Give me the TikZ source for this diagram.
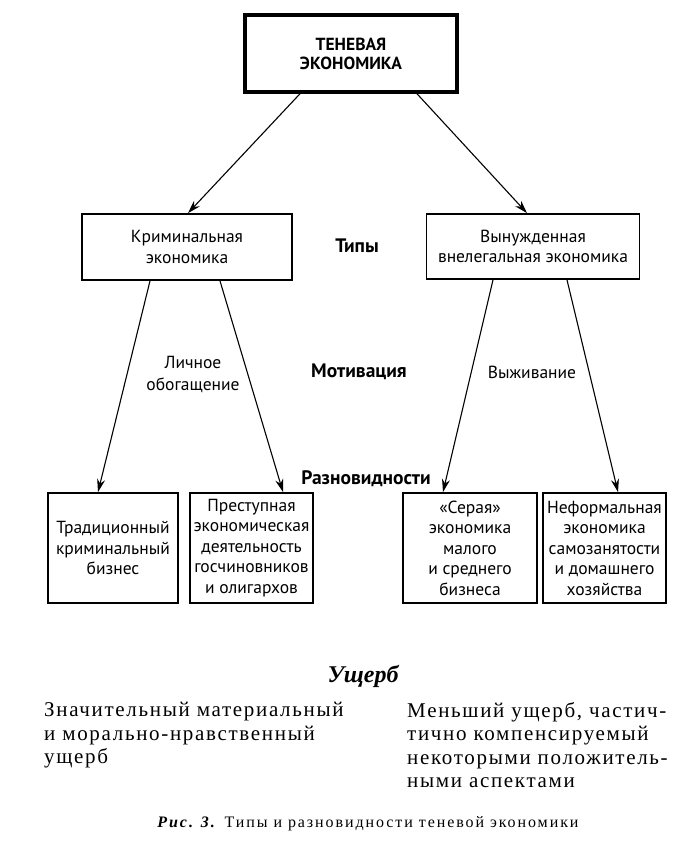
\documentclass[tikz,border=0pt]{standalone}
\usepackage{fontspec}
\setmainfont{Liberation Serif}
\setsansfont{PT Sans}
\usetikzlibrary{arrows.meta}

\tikzset{
  box/.style={draw, line width=1.8pt, align=center, inner sep=0pt,
    font=\sffamily\fontsize{17.5}{20.5}\selectfont},
  arr/.style={-{Stealth[length=13pt, width=8pt]}, line width=1.1pt},
  head/.style={font=\sffamily\bfseries\fontsize{19.5}{22}\selectfont},
  note/.style={align=center, font=\sffamily\fontsize{17.5}{22}\selectfont},
  loss/.style={anchor=north west, align=left, inner sep=0pt,
    font=\addfontfeature{LetterSpace=8}\fontsize{21}{23.5}\selectfont}
}

\begin{document}
\begin{tikzpicture}[x=1pt, y=-1pt]
    \useasboundingbox (0,0) rectangle (697,844);
    % types
    \node[box, line width=3.5pt, minimum width=212pt, minimum height=77pt,
        font=\sffamily\bfseries\fontsize{17.5}{19}\selectfont] (shadow) at (351,53.5) {ТЕНЕВАЯ\\ЭКОНОМИКА};
    \node[box, minimum width=210pt, minimum height=66pt] (crim) at (187,247) {Криминальная\\экономика};
    \node[box, minimum width=213pt, minimum height=65pt] (forced) at (533,246.5) {Вынужденная\\внелегальная экономика};
    % varieties
    \node[box, minimum width=130pt, minimum height=110pt] (trad) at (113,548) {Традиционный\\криминальный\\бизнес};
    \node[box, minimum width=123pt, minimum height=110pt] (olig) at (251.5,548) {Преступная\\экономическая\\деятельность\\госчиновников\\и олигархов};
    \node[box, minimum width=134pt, minimum height=110pt] (grey) at (470,548) {«Серая»\\экономика\\малого\\и среднего\\бизнеса};
    \node[box, minimum width=123pt, minimum height=110pt] (inform) at (604.5,548) {Неформальная\\экономика\\самозанятости\\и домашнего\\хозяйства};
    % arrows
    \draw[arr] ([xshift=-51pt]shadow.south) -- ([xshift=1pt]crim.north);
    \draw[arr] ([xshift=66pt]shadow.south) -- ([xshift=-6pt]forced.north);
    \draw[arr] ([xshift=-37pt]crim.south) -- ([xshift=-15pt]trad.north);
    \draw[arr] ([xshift=33pt]crim.south) -- ([xshift=31.5pt]olig.north);
    \draw[arr] ([xshift=-40pt]forced.south) -- ([xshift=-27pt]grey.north);
    \draw[arr] ([xshift=34pt]forced.south) -- ([xshift=13.5pt]inform.north);
    % labels
    \node[head] (types) at (357,246) {Типы};
    \node[head] (motiv) at (359,372) {Мотивация};
    \node[head] (kinds) at (366,479) {Разновидности};
    \node[note] (gain) at (193,374) {Личное\\обогащение};
    \node[note] (surv) at (532,372) {Выживание};
    % damage
    \node[font=\bfseries\itshape\fontsize{24}{26}\selectfont] (dmg) at (363,676) {Ущерб};
    \node[loss] (dmgleft) at (44,702) {Значительный материальный\\и морально-нравственный\\ущерб};
    \node[loss] (dmgright) at (407,702) {Меньший ущерб, частич-\\тично компенсируемый\\некоторыми положитель-\\ными аспектами};
    \node[font=\addfontfeature{LetterSpace=12}\fontsize{16}{18}\selectfont] (caption) at (368,824)
        {\textbf{\textit{Рис. 3.}} Типы и разновидности теневой экономики};
\end{tikzpicture}
\end{document}
